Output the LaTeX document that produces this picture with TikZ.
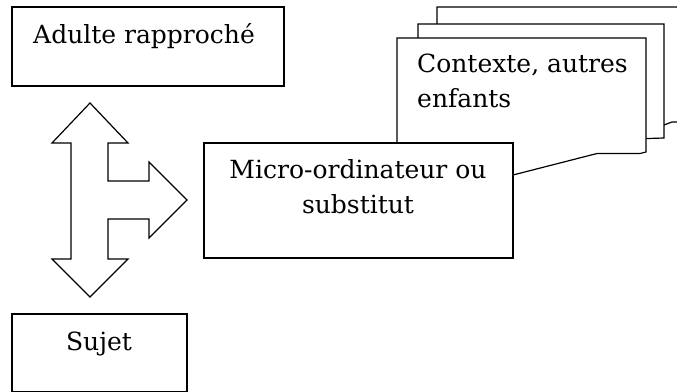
\documentclass[tikz,border=0pt]{standalone}
\usepackage{fontspec}
\setmainfont{DejaVu Serif}
\begin{document}
\begin{tikzpicture}[x=1pt,y=-1pt,
  box/.style={draw=black,line width=1.4pt,fill=white,rectangle,inner sep=0pt},
  sheet/.style={draw=black,line width=1.2pt,fill=white,line join=miter},
  lbl/.style={inner sep=0pt,font=\fontsize{25}{35}\selectfont},
  bigarrow/.style={draw=black,line width=1.2pt,fill=white,line join=miter}]
\useasboundingbox (0,0) rectangle (677,391);
% stacked context sheets
\path[sheet] (437,130) -- (437,7) -- (685,7) -- (685,122) -- (672,122) -- (664,125) -- cycle;
\path[sheet] (418,145) -- (418,24) -- (664,24) -- (664,138) -- (600,140) -- cycle;
\path[sheet] (397,190) -- (397,38) -- (646,38) -- (646,152) -- (640,153.5) -- (597,153.5) -- (513,175) -- (513,190) -- cycle;
\node[lbl,anchor=base west,align=left] (ctx) at (417,107) {Contexte, autres\\enfants};
% boxes
\node[box,minimum width=272pt,minimum height=79pt] (adulte) at (148,46.5) {};
\node[lbl,anchor=base west] (adultetxt) at (33,43) {Adulte rapproché};
\node[box,minimum width=309pt,minimum height=115pt] (micro) at (358.5,200.5) {};
\node[lbl,anchor=base,align=center] (microtxt) at (358,213) {Micro-ordinateur ou\\substitut};
\node[box,minimum width=175pt,minimum height=78pt] (sujet) at (99.5,353) {};
\node[lbl,anchor=base] (sujettxt) at (99,350) {Sujet};
% three-way arrow
\path[bigarrow] (90,103) -- (128,143) -- (108,143) -- (108,181) -- (149,181) -- (149,162)
  -- (187,200) -- (149,238) -- (149,219) -- (108,219) -- (108,259) -- (128,259)
  -- (90,297) -- (52,259) -- (71,259) -- (71,143) -- (52,143) -- cycle;
\end{tikzpicture}
\end{document}
